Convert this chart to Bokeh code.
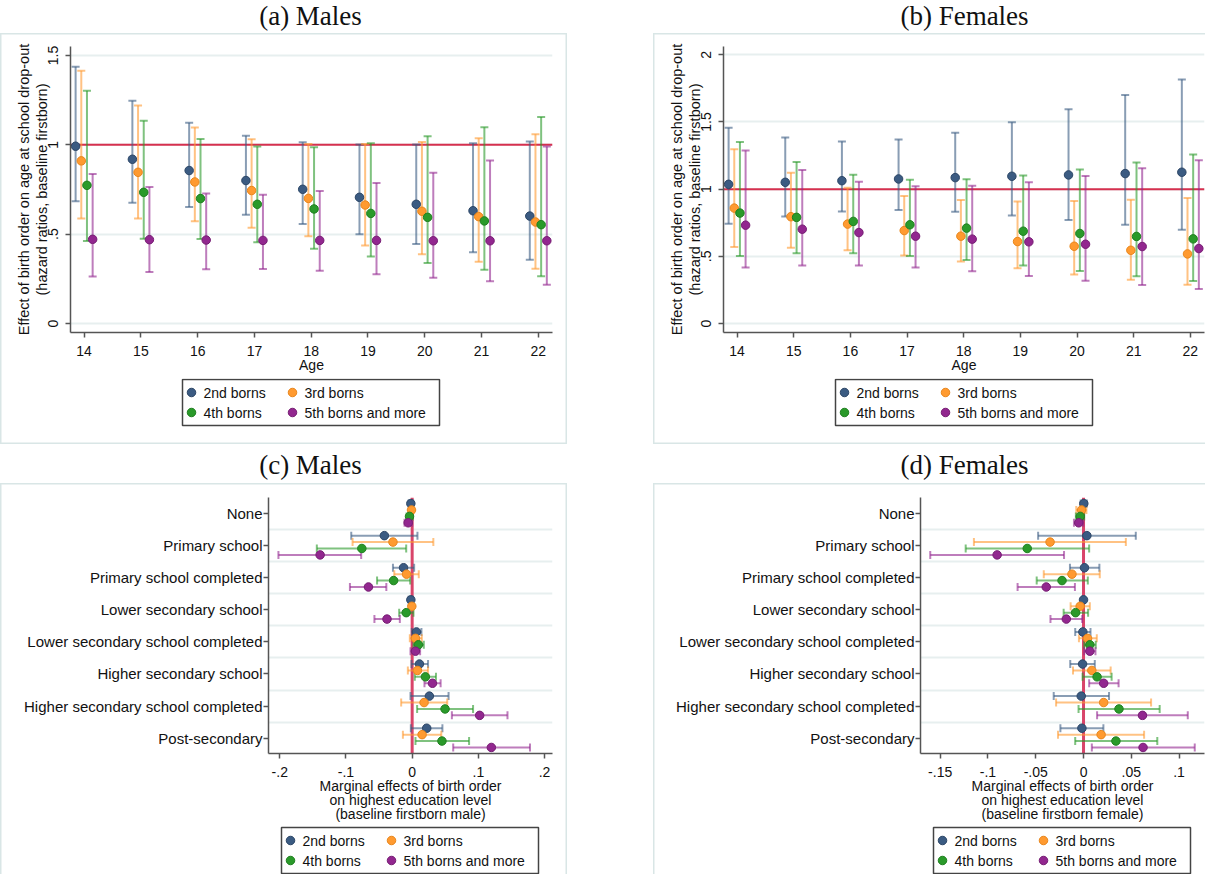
from bokeh.plotting import figure
from bokeh.models import (Range1d, FixedTicker, Span, Whisker, TeeHead, ColumnDataSource,
                          Label, Spacer, CustomJSTickFormatter)
from bokeh.core.properties import value
from bokeh.layouts import row, column
from bokeh.embed import file_html
from bokeh.resources import INLINE

# ---------------- data ----------------
ages = [14, 15, 16, 17, 18, 19, 20, 21, 22]
series_labels = ["2nd borns", "3rd borns", "4th borns", "5th borns and more"]

# (a) Males: hazard ratios with 95% CI
a_2nd_est = [0.992, 0.919, 0.856, 0.800, 0.751, 0.706, 0.667, 0.631, 0.601]
a_2nd_lo = [0.684, 0.676, 0.652, 0.609, 0.557, 0.499, 0.445, 0.398, 0.357]
a_2nd_hi = [1.437, 1.246, 1.123, 1.050, 1.014, 1.001, 1.001, 1.009, 1.018]
a_3rd_est = [0.910, 0.846, 0.792, 0.744, 0.700, 0.663, 0.628, 0.598, 0.568]
a_3rd_lo = [0.587, 0.588, 0.572, 0.536, 0.488, 0.437, 0.387, 0.346, 0.306]
a_3rd_hi = [1.414, 1.220, 1.097, 1.031, 1.005, 1.005, 1.016, 1.037, 1.059]
a_4th_est = [0.773, 0.734, 0.699, 0.667, 0.641, 0.616, 0.594, 0.574, 0.553]
a_4th_lo = [0.461, 0.474, 0.473, 0.454, 0.418, 0.375, 0.338, 0.301, 0.265]
a_4th_hi = [1.302, 1.134, 1.033, 0.990, 0.986, 1.009, 1.048, 1.098, 1.155]
a_5th_est = [0.471, 0.469, 0.467, 0.465, 0.465, 0.465, 0.463, 0.463, 0.463]
a_5th_lo = [0.263, 0.288, 0.303, 0.305, 0.295, 0.275, 0.256, 0.237, 0.217]
a_5th_hi = [0.837, 0.764, 0.727, 0.721, 0.742, 0.786, 0.844, 0.912, 0.990]

# (b) Females: hazard ratios with 95% CI
b_2nd_est = [1.036, 1.051, 1.063, 1.076, 1.086, 1.096, 1.106, 1.116, 1.126]
b_2nd_lo = [0.742, 0.797, 0.834, 0.844, 0.832, 0.804, 0.770, 0.735, 0.697]
b_2nd_hi = [1.457, 1.385, 1.355, 1.370, 1.420, 1.499, 1.594, 1.701, 1.816]
b_3rd_est = [0.859, 0.795, 0.740, 0.692, 0.650, 0.610, 0.575, 0.545, 0.518]
b_3rd_lo = [0.570, 0.563, 0.545, 0.506, 0.461, 0.411, 0.364, 0.326, 0.289]
b_3rd_hi = [1.298, 1.123, 1.011, 0.949, 0.919, 0.909, 0.912, 0.922, 0.934]
b_4th_est = [0.822, 0.790, 0.760, 0.735, 0.710, 0.687, 0.670, 0.648, 0.630]
b_4th_lo = [0.503, 0.523, 0.523, 0.503, 0.473, 0.431, 0.391, 0.351, 0.316]
b_4th_hi = [1.352, 1.203, 1.108, 1.071, 1.073, 1.101, 1.146, 1.198, 1.258]
b_5th_est = [0.732, 0.702, 0.677, 0.650, 0.628, 0.608, 0.590, 0.573, 0.558]
b_5th_lo = [0.416, 0.431, 0.431, 0.416, 0.389, 0.354, 0.319, 0.286, 0.257]
b_5th_hi = [1.288, 1.143, 1.056, 1.021, 1.026, 1.051, 1.098, 1.156, 1.215]

edu_levels = ["None", "Primary school", "Primary school completed", "Lower secondary school",
              "Lower secondary school completed", "Higher secondary school",
              "Higher secondary school completed", "Post-secondary"]

# (c) Males: marginal effects with 95% CI
c_2nd_est = [-0.002, -0.042, -0.013, -0.002, 0.0065, 0.011, 0.026, 0.022]
c_2nd_lo = [-0.0055, -0.092, -0.029, -0.0055, -0.0005, -0.001, -0.0025, -0.002]
c_2nd_hi = [0.0015, 0.008, 0.003, 0.0015, 0.014, 0.024, 0.055, 0.0457]
c_3rd_est = [-0.001, -0.029, -0.0085, -0.0005, 0.005, 0.008, 0.018, 0.015]
c_3rd_lo = [-0.0045, -0.090, -0.027, -0.003, -0.0035, -0.0065, -0.0166, -0.014]
c_3rd_hi = [0.0025, 0.032, 0.010, 0.002, 0.0146, 0.024, 0.053, 0.044]
c_4th_est = [-0.004, -0.076, -0.028, -0.009, 0.0095, 0.020, 0.0497, 0.045]
c_4th_lo = [-0.0085, -0.144, -0.053, -0.0196, 0.002, 0.004, 0.0075, 0.005]
c_4th_hi = [0.001, -0.009, -0.003, 0.002, 0.0176, 0.036, 0.092, 0.086]
c_5th_est = [-0.006, -0.139, -0.066, -0.038, 0.005, 0.0307, 0.102, 0.1196]
c_5th_lo = [-0.0115, -0.202, -0.094, -0.057, -0.0025, 0.0186, 0.060, 0.062]
c_5th_hi = [0.0, -0.077, -0.039, -0.0186, 0.012, 0.043, 0.144, 0.178]

# (d) Females: marginal effects with 95% CI
d_2nd_est = [0.0003, 0.0035, 0.001, 0.0, -0.0007, -0.001, -0.0024, -0.0017]
d_2nd_lo = [-0.003, -0.0475, -0.0142, -0.0017, -0.0087, -0.0139, -0.0312, -0.0242]
d_2nd_hi = [0.0035, 0.0547, 0.0166, 0.0017, 0.0073, 0.0118, 0.0267, 0.0208]
d_3rd_est = [-0.002, -0.035, -0.0121, -0.0035, 0.0042, 0.0087, 0.0211, 0.0184]
d_3rd_lo = [-0.0076, -0.1147, -0.0416, -0.0135, -0.0048, -0.011, -0.0287, -0.0267]
d_3rd_hi = [0.003, 0.0443, 0.017, 0.0066, 0.0139, 0.0284, 0.0707, 0.0634]
d_4th_est = [-0.0035, -0.0589, -0.0225, -0.0083, 0.0066, 0.0142, 0.0371, 0.0339]
d_4th_lo = [-0.008, -0.1233, -0.049, -0.0208, 0.0007, -0.001, -0.0052, -0.0087]
d_4th_hi = [0.0007, 0.0059, 0.0045, 0.0048, 0.0128, 0.0294, 0.0797, 0.0772]
d_5th_est = [-0.005, -0.0904, -0.039, -0.018, 0.0066, 0.0211, 0.0617, 0.0623]
d_5th_lo = [-0.010, -0.1604, -0.069, -0.0346, 0.0007, 0.0059, 0.0142, 0.0087]
d_5th_hi = [-0.0003, -0.0204, -0.009, -0.0014, 0.0125, 0.0367, 0.1091, 0.1164]

# ---------------- style ----------------
SANS = "Liberation Sans"
SERIF = "Liberation Serif"
COLORS = ["#3b5b82", "#ff9a30", "#2a9a2a", "#92278f"]
EDGES = ["#2c4666", "#e8861c", "#1f7f1f", "#761d73"]
CI_ALPHA = 0.6
AXIS_COLOR = "#555555"
GRID_COLOR = "#e7efef"
BOX_COLOR = "#d9e6e6"
TOP_OFFSETS = [-0.15, -0.05, 0.05, 0.15]
BOT_OFFSETS = [-0.31, -0.11, 0.09, 0.29]

DOT_CODE = """
var s = String(tick);
if (s.indexOf('0.') === 0) return s.slice(1);
if (s.indexOf('-0.') === 0) return '-' + s.slice(2);
return s;
"""


def plain_fig(w, h, mbl=0, mbr=0):
    # strip whose data space equals its pixel space (x right, y down)
    p = figure(frame_width=w - mbl - mbr, frame_height=h,
               x_range=Range1d(mbl, w - mbr), y_range=Range1d(h, 0),
               output_backend="svg", toolbar_location=None, tools="", title=None,
               x_axis_location=None, y_axis_location=None,
               min_border_left=mbl, min_border_right=mbr, min_border_top=0, min_border_bottom=0)
    p.grid.visible = False
    p.outline_line_color = None
    p.background_fill_color = None
    p.border_fill_color = None
    return p


def title_fig(w, h, text, cx, cy):
    p = plain_fig(w, h)
    p.add_layout(Label(x=cx, y=cy, text=text, text_font=SERIF, text_font_size="27px",
                       text_align="center", text_baseline="middle", text_color="#111111"))
    return p


def legend_fig(w, h, x0, y0, mbl, mbr):
    p = plain_fig(w, h, mbl, mbr)
    p.quad(left=[x0], right=[x0 + 257], top=[y0], bottom=[y0 + 46],
           fill_color="white", line_color="#444444", line_width=1.5)
    col_x = [x0 + 9, x0 + 110, x0 + 9, x0 + 110]
    row_y = [y0 + 13, y0 + 13, y0 + 33, y0 + 33]
    for k in range(4):
        p.scatter([col_x[k]], [row_y[k]], marker="circle", size=8.5,
                  fill_color=COLORS[k], line_color=EDGES[k], line_width=1)
    p.text(x=[cx + 12 for cx in col_x], y=row_y, text=series_labels,
           text_font=value(SANS), text_font_size=value("14px"),
           text_baseline="middle", text_align="left", text_color="#111111")
    return p


def main_fig(fw, fh, xr, yr, mbl, mbr, mbt, mbb):
    p = figure(frame_width=fw, frame_height=fh, x_range=Range1d(*xr), y_range=Range1d(*yr),
               output_backend="svg", toolbar_location=None, tools="", title=None,
               min_border_left=mbl, min_border_right=mbr,
               min_border_top=mbt, min_border_bottom=mbb)
    p.outline_line_color = None
    p.background_fill_color = None
    p.border_fill_color = None
    for ax in (p.xaxis[0], p.yaxis[0]):
        ax.axis_line_color = AXIS_COLOR
        ax.axis_line_width = 1.5
        ax.major_tick_line_color = AXIS_COLOR
        ax.major_tick_line_width = 1.5
        ax.major_tick_out = 5
        ax.major_tick_in = 0
        ax.minor_tick_line_color = None
        ax.major_label_text_font = SANS
        ax.major_label_text_font_size = "14px"
        ax.major_label_text_color = "#111111"
        ax.axis_label_text_font = SANS
        ax.axis_label_text_font_size = "14px"
        ax.axis_label_text_font_style = "normal"
        ax.axis_label_text_color = "#111111"
    p.xgrid.visible = False
    p.ygrid.grid_line_color = GRID_COLOR
    p.ygrid.grid_line_width = 2
    return p


def boxed(children, sides):
    shadows = []
    if "l" in sides:
        shadows.append("inset 1.5px 0 0 0 " + BOX_COLOR)
    if "r" in sides:
        shadows.append("inset -1.5px 0 0 0 " + BOX_COLOR)
    if "t" in sides:
        shadows.append("inset 0 1.5px 0 0 " + BOX_COLOR)
    if "b" in sides:
        shadows.append("inset 0 -1.5px 0 0 " + BOX_COLOR)
    return column(*children, styles={"box-shadow": ", ".join(shadows)})


def place(box, qw, box_x0, box_w, h):
    inner = [box]
    if box_x0 > 0:
        inner = [Spacer(width=box_x0, height=h), box]
    if qw - box_x0 - box_w > 0:
        inner.append(Spacer(width=qw - box_x0 - box_w, height=h))
    return row(*inner)


def top_quadrant(title, est, lo, hi, yr, yticks, qw, box_x0, box_w, fw, mbl, mbr, sides,
                 title_cx, leg_x):
    xr = (13.76, 22.25)
    fh, mbt, mbb = 286, 13, 46
    p = main_fig(fw, fh, xr, yr, mbl, mbr, mbt, mbb)
    p.xaxis.ticker = FixedTicker(ticks=ages)
    p.xaxis.axis_label = "Age"
    p.xaxis.major_label_standoff = 8
    p.xaxis.axis_label_standoff = -2
    p.yaxis.ticker = FixedTicker(ticks=yticks)
    p.yaxis.formatter = CustomJSTickFormatter(code=DOT_CODE)
    p.yaxis.major_label_orientation = "vertical"
    p.yaxis.major_label_standoff = 7
    p.yaxis.axis_label = ("Effect of birth order on age at school drop-out\n"
                          "(hazard ratios, baseline firstborn)")
    p.yaxis.axis_label_text_font_size = "14.5px"
    p.yaxis.axis_label_standoff = -4
    p.yaxis.axis_label_text_line_height = 1.12
    p.ygrid.ticker = FixedTicker(ticks=yticks)
    p.add_layout(Span(location=1, dimension="width", line_color="#d6304f",
                      line_width=2, level="underlay"))
    for k in range(4):
        xs = [a + TOP_OFFSETS[k] for a in ages]
        src = ColumnDataSource(dict(x=xs, lo=lo[k], hi=hi[k]))
        head = dict(size=8, line_color=COLORS[k], line_alpha=CI_ALPHA, line_width=2)
        p.add_layout(Whisker(source=src, base="x", lower="lo", upper="hi", dimension="height",
                             line_color=COLORS[k], line_alpha=CI_ALPHA, line_width=2,
                             upper_head=TeeHead(**head), lower_head=TeeHead(**head)))
        p.scatter(xs, est[k], marker="circle", size=8.5, fill_color=COLORS[k],
                  line_color=EDGES[k], line_width=1)
    leg = legend_fig(box_w, 66, leg_x, 1, mbl, mbr)
    box = boxed([p, leg], sides)
    return column(title_fig(qw, 33, title, title_cx, 15), place(box, qw, box_x0, box_w, 411),
                  Spacer(width=qw, height=3))


def bottom_quadrant(title, est, lo, hi, xr, xticks, xlabel, qw, box_x0, box_w, fw, mbl, mbr,
                    sides, title_cx, leg_x):
    yr = (8.478, 0.5015)
    fh, mbt, mbb = 256, 14, 72
    p = main_fig(fw, fh, xr, yr, mbl, mbr, mbt, mbb)
    cats = list(range(1, len(edu_levels) + 1))
    p.yaxis.ticker = FixedTicker(ticks=cats)
    p.yaxis.major_label_overrides = {c: lab for c, lab in zip(cats, edu_levels)}
    p.yaxis.major_label_text_font_size = "15px"
    p.yaxis.major_label_standoff = 1
    p.ygrid.ticker = FixedTicker(ticks=[c + 0.5 for c in cats[:-1]])
    p.xaxis.ticker = FixedTicker(ticks=xticks)
    p.xaxis.formatter = CustomJSTickFormatter(code=DOT_CODE)
    p.xaxis.major_label_standoff = 8
    p.xaxis.axis_label = xlabel
    p.xaxis.axis_label_standoff = -2
    p.xaxis.axis_label_text_line_height = 0.875
    p.add_layout(Span(location=0, dimension="height", line_color="#d9456a",
                      line_width=3, level="underlay"))
    for k in range(4):
        ys = [c + BOT_OFFSETS[k] for c in cats]
        src = ColumnDataSource(dict(y=ys, lo=lo[k], hi=hi[k]))
        head = dict(size=8, line_color=COLORS[k], line_alpha=CI_ALPHA, line_width=2)
        p.add_layout(Whisker(source=src, base="y", lower="lo", upper="hi", dimension="width",
                             line_color=COLORS[k], line_alpha=CI_ALPHA, line_width=2,
                             upper_head=TeeHead(**head), lower_head=TeeHead(**head)))
        p.scatter(est[k], ys, marker="circle", size=8.5, fill_color=COLORS[k],
                  line_color=EDGES[k], line_width=1)
    leg = legend_fig(box_w, 49, leg_x, 2, mbl, mbr)
    box = boxed([p, leg], sides)
    return column(title_fig(qw, 36, title, title_cx, 17), place(box, qw, box_x0, box_w, 391))


qa = top_quadrant("(a) Males",
                  [a_2nd_est, a_3rd_est, a_4th_est, a_5th_est],
                  [a_2nd_lo, a_3rd_lo, a_4th_lo, a_5th_lo],
                  [a_2nd_hi, a_3rd_hi, a_4th_hi, a_5th_hi],
                  (-0.0504, 1.55), [0, 0.5, 1, 1.5],
                  602, 0, 567, 482, 70, 15, "lrtb", 310, 182)
qb = top_quadrant("(b) Females",
                  [b_2nd_est, b_3rd_est, b_4th_est, b_5th_est],
                  [b_2nd_lo, b_3rd_lo, b_4th_lo, b_5th_lo],
                  [b_2nd_hi, b_3rd_hi, b_4th_hi, b_5th_hi],
                  (-0.067, 2.062), [0, 0.5, 1, 1.5, 2],
                  603, 51, 552, 481, 70, 1, "ltb", 362, 182)
qc = bottom_quadrant("(c) Males",
                     [c_2nd_est, c_3rd_est, c_4th_est, c_5th_est],
                     [c_2nd_lo, c_3rd_lo, c_4th_lo, c_5th_lo],
                     [c_2nd_hi, c_3rd_hi, c_4th_hi, c_5th_hi],
                     (-0.217, 0.212), [-0.2, -0.1, 0, 0.1, 0.2],
                     "Marginal effects of birth order\non highest education level\n(baseline firstborn male)",
                     602, 0, 567, 284, 268, 15, "lrt", 310, 281)
qd = bottom_quadrant("(d) Females",
                     [d_2nd_est, d_3rd_est, d_4th_est, d_5th_est],
                     [d_2nd_lo, d_3rd_lo, d_4th_lo, d_5th_lo],
                     [d_2nd_hi, d_3rd_hi, d_4th_hi, d_5th_hi],
                     (-0.1706, 0.1266), [-0.15, -0.1, -0.05, 0, 0.05, 0.1],
                     "Marginal effects of birth order\non highest education level\n(baseline firstborn female)",
                     603, 51, 552, 284, 267, 1, "lt", 362, 280)

layout = column(row(qa, qb), row(qc, qd))
open("out.html", "w").write(file_html(layout, INLINE))
